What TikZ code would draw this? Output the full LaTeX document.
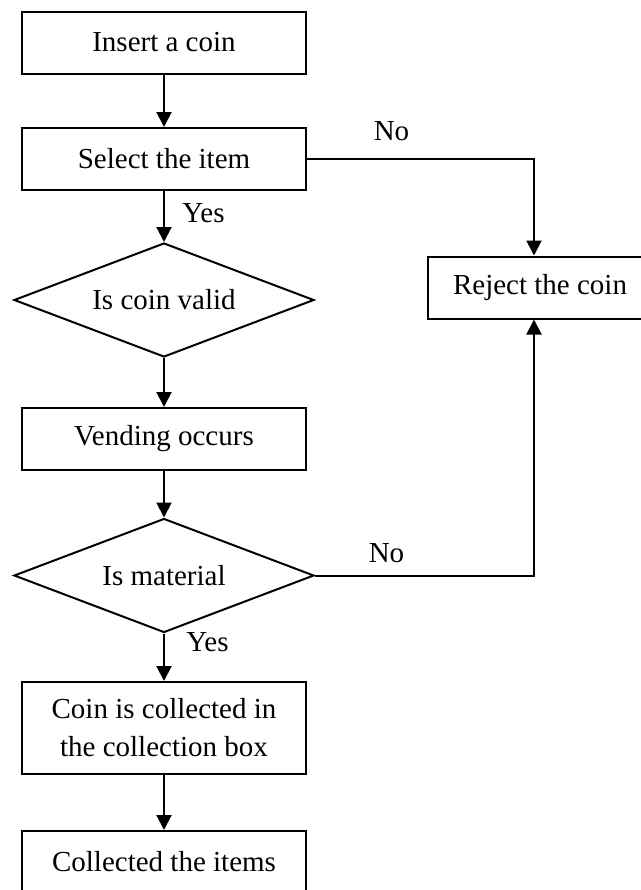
\documentclass[tikz,border=0pt]{standalone}
\usepackage{fontspec}
\setmainfont{Liberation Serif}
\usetikzlibrary{arrows.meta,shapes.geometric}
\definecolor{vendInk}{HTML}{000000}
\tikzset{
  every picture/.style={font=\fontsize{14.5}{19}\selectfont, text=vendInk},
  vend box/.style={draw=vendInk, line width=1pt, fill=white,
    align=center, minimum width=142pt, minimum height=31pt, inner sep=0pt},
  vend decision/.style={draw=vendInk, line width=1pt, diamond, aspect=3,
    minimum width=150pt, minimum height=57pt, inner sep=0pt},
  vend arrow/.style={-{Triangle[length=7.5pt,width=7.5pt]},
    draw=vendInk, line width=1pt},
  vend label/.style={anchor=base, inner sep=0pt}
}

\begin{document}
\begin{tikzpicture}[x=0.5pt,y=-0.5pt]
  \useasboundingbox (0,0) rectangle (641,890);
  \clip (0,0) rectangle (641,890);
  % main column
  \node[vend box] (insert) at (164,42.5) {Insert a coin};
  \node[vend box] (select) at (164,159) {Select the item};
  \node[vend decision] (valid) at (164,300) {Is coin valid};
  \node[vend box] (vending) at (164,439) {Vending occurs};
  \node[vend decision] (material) at (164,575.5) {Is material};
  \node[vend box, minimum height=46pt] (collect) at (164,728)
    {Coin is collected in\\the collection box};
  \node[vend box] (items) at (164,862) {Collected the items};
  % reject branch
  \node[vend box, minimum width=112pt] (reject) at (540,287.5) {Reject the coin};
  \coordinate (rejectIn) at (534,0);

  \draw[vend arrow] (insert) -- (select);
  \draw[vend arrow] (select) -- (valid);
  \draw[vend arrow] (valid) -- (vending);
  \draw[vend arrow] (vending) -- (material);
  \draw[vend arrow] (material) -- (collect);
  \draw[vend arrow] (collect) -- (items);
  \draw[vend arrow] (select.east) -| (rejectIn |- reject.north);
  \draw[vend arrow] (material.east) -| (rejectIn |- reject.south);

  \node[vend label] (yesValid) at (203.5,222) {Yes};
  \node[vend label] (yesMaterial) at (207.5,651) {Yes};
  \node[vend label] (noSelect) at (391.5,140) {No};
  \node[vend label] (noMaterial) at (386.5,562) {No};
\end{tikzpicture}
\end{document}
